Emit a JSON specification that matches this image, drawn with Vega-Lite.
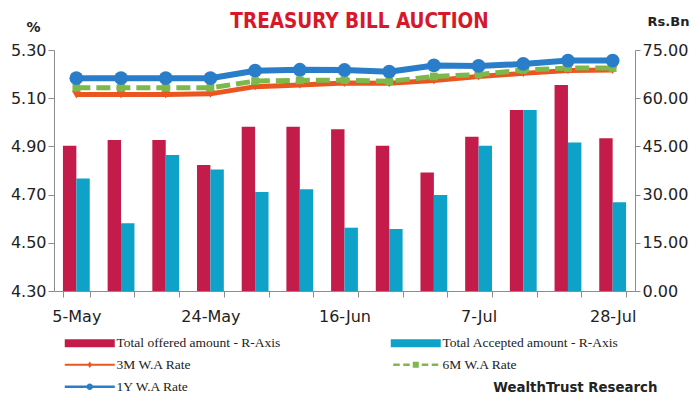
{
  "$schema": "https://vega.github.io/schema/vega-lite/v6.json",
  "width": 581,
  "height": 241,
  "autosize": {"type": "none"},
  "padding": {"left": 54, "top": 50, "right": 65, "bottom": 109},
  "background": "white",
  "config": {"view": {"stroke": null}},
  "title": {
    "text": "TREASURY BILL AUCTION",
    "anchor": "middle",
    "frame": "group",
    "dx": 15,
    "offset": -17,
    "font": "DejaVu Sans Condensed, Liberation Sans, sans-serif",
    "fontSize": 20.5,
    "fontWeight": "bold",
    "color": "#d7182a"
  },
  "datasets": {
    "bars": [
      {"date": "5-May", "series": "Total offered amount - R-Axis", "amount": 45.2},
      {"date": "5-May", "series": "Total Accepted amount - R-Axis", "amount": 35.0},
      {"date": "12-May", "series": "Total offered amount - R-Axis", "amount": 47.0},
      {"date": "12-May", "series": "Total Accepted amount - R-Axis", "amount": 21.1},
      {"date": "19-May", "series": "Total offered amount - R-Axis", "amount": 47.0},
      {"date": "19-May", "series": "Total Accepted amount - R-Axis", "amount": 42.3},
      {"date": "24-May", "series": "Total offered amount - R-Axis", "amount": 39.2},
      {"date": "24-May", "series": "Total Accepted amount - R-Axis", "amount": 37.8},
      {"date": "2-Jun", "series": "Total offered amount - R-Axis", "amount": 51.1},
      {"date": "2-Jun", "series": "Total Accepted amount - R-Axis", "amount": 30.8},
      {"date": "9-Jun", "series": "Total offered amount - R-Axis", "amount": 51.1},
      {"date": "9-Jun", "series": "Total Accepted amount - R-Axis", "amount": 31.7},
      {"date": "16-Jun", "series": "Total offered amount - R-Axis", "amount": 50.3},
      {"date": "16-Jun", "series": "Total Accepted amount - R-Axis", "amount": 19.7},
      {"date": "23-Jun", "series": "Total offered amount - R-Axis", "amount": 45.2},
      {"date": "23-Jun", "series": "Total Accepted amount - R-Axis", "amount": 19.3},
      {"date": "30-Jun", "series": "Total offered amount - R-Axis", "amount": 36.9},
      {"date": "30-Jun", "series": "Total Accepted amount - R-Axis", "amount": 29.9},
      {"date": "7-Jul", "series": "Total offered amount - R-Axis", "amount": 48.0},
      {"date": "7-Jul", "series": "Total Accepted amount - R-Axis", "amount": 45.2},
      {"date": "14-Jul", "series": "Total offered amount - R-Axis", "amount": 56.3},
      {"date": "14-Jul", "series": "Total Accepted amount - R-Axis", "amount": 56.3},
      {"date": "21-Jul", "series": "Total offered amount - R-Axis", "amount": 64.1},
      {"date": "21-Jul", "series": "Total Accepted amount - R-Axis", "amount": 46.2},
      {"date": "28-Jul", "series": "Total offered amount - R-Axis", "amount": 47.5},
      {"date": "28-Jul", "series": "Total Accepted amount - R-Axis", "amount": 27.6}
    ],
    "rates": [
      {"date": "5-May", "series": "3M W.A Rate", "rate": 5.115},
      {"date": "12-May", "series": "3M W.A Rate", "rate": 5.115},
      {"date": "19-May", "series": "3M W.A Rate", "rate": 5.115},
      {"date": "24-May", "series": "3M W.A Rate", "rate": 5.118},
      {"date": "2-Jun", "series": "3M W.A Rate", "rate": 5.148},
      {"date": "9-Jun", "series": "3M W.A Rate", "rate": 5.155},
      {"date": "16-Jun", "series": "3M W.A Rate", "rate": 5.163},
      {"date": "23-Jun", "series": "3M W.A Rate", "rate": 5.162},
      {"date": "30-Jun", "series": "3M W.A Rate", "rate": 5.173},
      {"date": "7-Jul", "series": "3M W.A Rate", "rate": 5.19},
      {"date": "14-Jul", "series": "3M W.A Rate", "rate": 5.203},
      {"date": "21-Jul", "series": "3M W.A Rate", "rate": 5.215},
      {"date": "28-Jul", "series": "3M W.A Rate", "rate": 5.217},
      {"date": "5-May", "series": "6M W.A Rate", "rate": 5.143},
      {"date": "12-May", "series": "6M W.A Rate", "rate": 5.143},
      {"date": "19-May", "series": "6M W.A Rate", "rate": 5.143},
      {"date": "24-May", "series": "6M W.A Rate", "rate": 5.143},
      {"date": "2-Jun", "series": "6M W.A Rate", "rate": 5.171},
      {"date": "9-Jun", "series": "6M W.A Rate", "rate": 5.174},
      {"date": "16-Jun", "series": "6M W.A Rate", "rate": 5.175},
      {"date": "23-Jun", "series": "6M W.A Rate", "rate": 5.17},
      {"date": "30-Jun", "series": "6M W.A Rate", "rate": 5.19},
      {"date": "7-Jul", "series": "6M W.A Rate", "rate": 5.198},
      {"date": "14-Jul", "series": "6M W.A Rate", "rate": 5.217},
      {"date": "21-Jul", "series": "6M W.A Rate", "rate": 5.225},
      {"date": "28-Jul", "series": "6M W.A Rate", "rate": 5.225},
      {"date": "5-May", "series": "1Y W.A Rate", "rate": 5.183},
      {"date": "12-May", "series": "1Y W.A Rate", "rate": 5.183},
      {"date": "19-May", "series": "1Y W.A Rate", "rate": 5.183},
      {"date": "24-May", "series": "1Y W.A Rate", "rate": 5.183},
      {"date": "2-Jun", "series": "1Y W.A Rate", "rate": 5.214},
      {"date": "9-Jun", "series": "1Y W.A Rate", "rate": 5.218},
      {"date": "16-Jun", "series": "1Y W.A Rate", "rate": 5.217},
      {"date": "23-Jun", "series": "1Y W.A Rate", "rate": 5.21},
      {"date": "30-Jun", "series": "1Y W.A Rate", "rate": 5.236},
      {"date": "7-Jul", "series": "1Y W.A Rate", "rate": 5.234},
      {"date": "14-Jul", "series": "1Y W.A Rate", "rate": 5.242},
      {"date": "21-Jul", "series": "1Y W.A Rate", "rate": 5.256},
      {"date": "28-Jul", "series": "1Y W.A Rate", "rate": 5.256}
    ]
  },
  "encoding": {
    "x": {
      "field": "date",
      "type": "nominal",
      "scale": {
        "domain": ["5-May","12-May","19-May","24-May","2-Jun","9-Jun","16-Jun","23-Jun","30-Jun","7-Jul","14-Jul","21-Jul","28-Jul"],
        "paddingInner": 0.4,
        "paddingOuter": 0.2
      },
      "axis": {
        "title": "WealthTrust Research",
        "titleAnchor": null,
        "titleAlign": "right",
        "titleBaseline": "middle",
        "titleX": 603,
        "titleY": 96,
        "titleFont": "DejaVu Sans Condensed, Liberation Sans, sans-serif",
        "titleFontSize": 14.8,
        "titleFontWeight": "bold",
        "titleColor": "#222222",
        "labelAngle": 0,
        "tickBand": "extent",
        "labelExpr": "indexof(['5-May','24-May','16-Jun','7-Jul','28-Jul'], datum.value) >= 0 ? datum.value : ''",
        "labelFont": "DejaVu Sans",
        "labelFontSize": 16,
        "labelColor": "#222222",
        "labelPadding": 11,
        "tickSize": 6,
        "tickColor": "#8c8c8c",
        "domainColor": "#8c8c8c",
        "labelOverlap": false
      }
    },
    "color": {
      "field": "series",
      "type": "nominal",
      "scale": {
        "domain": ["Total offered amount - R-Axis", "Total Accepted amount - R-Axis", "3M W.A Rate", "6M W.A Rate", "1Y W.A Rate"],
        "range": ["#c41c4a", "#0fa2c8", "#ea5520", "#7db84a", "#2a7dc9"]
      },
      "legend": {
        "title": null,
        "orient": "none",
        "legendX": 9,
        "legendY": 286,
        "direction": "horizontal",
        "columns": 2,
        "columnPadding": 108,
        "rowPadding": 7,
        "symbolSize": 100,
        "symbolStrokeWidth": 0,
        "symbolOffset": 20,
        "labelFont": "Liberation Serif",
        "labelFontSize": 13.5,
        "labelColor": "#222222",
        "labelOffset": 20,
        "labelLimit": 300,
        "encode": {
          "symbols": {
            "update": {
              "shape": {"signal": "datum.value === 'Total offered amount - R-Axis' || datum.value === 'Total Accepted amount - R-Axis' ? 'M-5,-0.8H5V0.8H-5Z' : datum.value === '3M W.A Rate' ? 'M-5,-0.22H5V0.22H-5Z M-0.45,0L0,-0.65L0.45,0L0,0.65Z' : datum.value === '6M W.A Rate' ? 'M-4.5,-0.25H-3.2V0.25H-4.5Z M-2.5,-0.25H-1.2V0.25H-2.5Z M-0.6,-0.6H0.6V0.6H-0.6Z M1.2,-0.25H2.5V0.25H1.2Z M3.2,-0.25H4.5V0.25H3.2Z' : 'M-5,-0.25H5V0.25H-5Z M-0.65,0A0.65,0.65 0 1,1 0.65,0A0.65,0.65 0 1,1 -0.65,0Z'"},
              "fill": {"scale": "color", "field": "value"},
              "fillOpacity": {"value": 1},
              "strokeWidth": {"value": 0}
            }
          }
        }
      }
    }
  },
  "layer": [
    {
      "data": {"name": "bars"},
      "mark": {"type": "bar"},
      "encoding": {
        "xOffset": {"field": "series", "type": "nominal", "sort": ["Total offered amount - R-Axis", "Total Accepted amount - R-Axis"], "scale": {"paddingInner": 0}},
        "y": {
          "field": "amount",
          "type": "quantitative",
          "scale": {"domain": [0, 75], "nice": false},
          "axis": {
            "orient": "right",
            "values": [0, 15, 30, 45, 60, 75],
            "format": ".2f",
            "grid": false,
            "title": "Rs.Bn",
            "titleAngle": 0,
            "titleAlign": "center",
            "titleBaseline": "middle",
            "titleX": 33,
            "titleY": -29,
            "titleFont": "DejaVu Sans",
            "titleFontSize": 13,
            "titleFontWeight": "bold",
            "titleColor": "#222222",
            "labelFont": "DejaVu Sans",
            "labelFontSize": 16,
            "labelColor": "#222222",
            "labelPadding": 2,
            "tickSize": 5,
            "tickColor": "#8c8c8c",
            "domainColor": "#8c8c8c"
          }
        }
      }
    },
    {
      "data": {"name": "rates"},
      "transform": [{"filter": "datum.series === '3M W.A Rate'"}],
      "mark": {"type": "line", "strokeWidth": 5, "point": {"shape": "triangle-down", "size": 80, "filled": true, "opacity": 1}},
      "encoding": {
        "y": {
          "field": "rate",
          "type": "quantitative",
          "scale": {"domain": [4.3, 5.3], "nice": false, "zero": false},
          "axis": {
            "orient": "left",
            "values": [4.3, 4.5, 4.7, 4.9, 5.1, 5.3],
            "format": ".2f",
            "grid": false,
            "title": "%",
            "titleAngle": 0,
            "titleAlign": "center",
            "titleBaseline": "middle",
            "titleX": -21,
            "titleY": -23,
            "titleFont": "DejaVu Sans",
            "titleFontSize": 14,
            "titleFontWeight": "bold",
            "titleColor": "#222222",
            "labelFont": "DejaVu Sans",
            "labelFontSize": 16,
            "labelColor": "#222222",
            "labelPadding": 2,
            "tickSize": 6,
            "tickColor": "#8c8c8c",
            "domainColor": "#8c8c8c"
          }
        }
      }
    },
    {
      "data": {"name": "rates"},
      "transform": [{"filter": "datum.series === '6M W.A Rate'"}],
      "mark": {"type": "line", "strokeWidth": 5, "strokeDash": [14, 6], "point": {"shape": "square", "size": 60, "filled": true, "opacity": 1}},
      "encoding": {
        "y": {"field": "rate", "type": "quantitative", "scale": {"domain": [4.3, 5.3], "nice": false, "zero": false}, "axis": null}
      }
    },
    {
      "data": {"name": "rates"},
      "transform": [{"filter": "datum.series === '1Y W.A Rate'"}],
      "mark": {"type": "line", "strokeWidth": 6, "point": {"shape": "circle", "size": 190, "filled": true, "opacity": 1}},
      "encoding": {
        "y": {"field": "rate", "type": "quantitative", "scale": {"domain": [4.3, 5.3], "nice": false, "zero": false}, "axis": null}
      }
    }
  ],
  "resolve": {"scale": {"y": "independent"}}
}
